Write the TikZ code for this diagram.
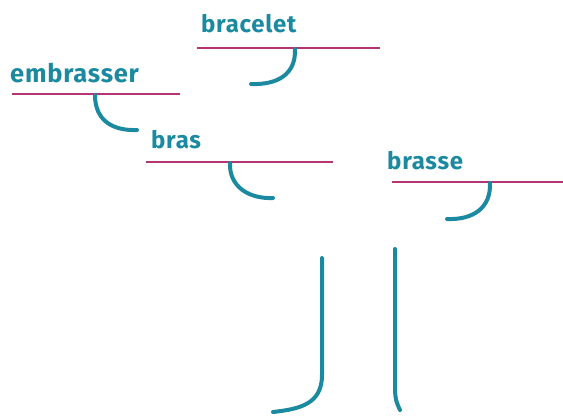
\documentclass[tikz,border=0pt]{standalone}
\usepackage{fontspec}
\setmainfont{Fira Sans}[LetterSpace=3]
\usepackage{tikz}
\usetikzlibrary{positioning, calc}
\definecolor{wordteal}{HTML}{1B8AA0}
\definecolor{rulemagenta}{HTML}{B53473}

\begin{document}
\begin{tikzpicture}[x=1pt, y=-1pt,
    word/.style={anchor=base west, inner sep=0pt, text=wordteal,
      font=\fontsize{24}{26}\selectfont\bfseries},
    baseline rule/.style={draw=rulemagenta, line width=2pt},
    hook/.style={draw=wordteal, line width=4pt, line cap=round}]
    \useasboundingbox (0,0) rectangle (563,416);

    % Words
    \node[word] (bracelet) at (201,32) {bracelet};
    \node[word, font=\fontsize{25.5}{26}\selectfont\bfseries] (embrasser) at (10,82) {embrasser};
    \node[word] (bras) at (151,148) {bras};
    \node[word] (brasse) at (387,169) {brasse};

    % Rules under the words
    \coordinate (braceletL) at (197,48);
    \coordinate (braceletR) at (380,48);
    \coordinate (embrasserL) at (12,94);
    \coordinate (embrasserR) at (180,94);
    \coordinate (brasL) at (146,162);
    \coordinate (brasR) at (333,162);
    \coordinate (brasseL) at (392,182);
    \coordinate (brasseR) at (563,182);
    \draw[baseline rule] (braceletL) -- (braceletR);
    \draw[baseline rule] (embrasserL) -- (embrasserR);
    \draw[baseline rule] (brasL) -- (brasR);
    \draw[baseline rule] (brasseL) -- (brasseR);

    % Hooks
    \coordinate (braceletH) at (295,49);
    \coordinate (embrasserH) at (95,95);
    \coordinate (brasH) at (230,163);
    \coordinate (brasseH) at (490,183);
    \draw[hook] (braceletH) .. controls (296,74) and (278,85) .. (251,84);
    \draw[hook] (embrasserH) .. controls (95,120) and (112,131) .. (137,130);
    \draw[hook] (brasH) .. controls (229,186) and (248,199) .. (273,198);
    \draw[hook] (brasseH) .. controls (491,208) and (473,220) .. (447,219);

    % Stems
    \coordinate (stemA) at (322,258);
    \coordinate (stemB) at (395,249);
    \draw[hook] (stemA) -- (322,375) .. controls (322,404) and (300,409) .. (273,412);
    \draw[hook] (stemB) -- (395,388) .. controls (395,399) and (397,404) .. (400,410);
\end{tikzpicture}
\end{document}
